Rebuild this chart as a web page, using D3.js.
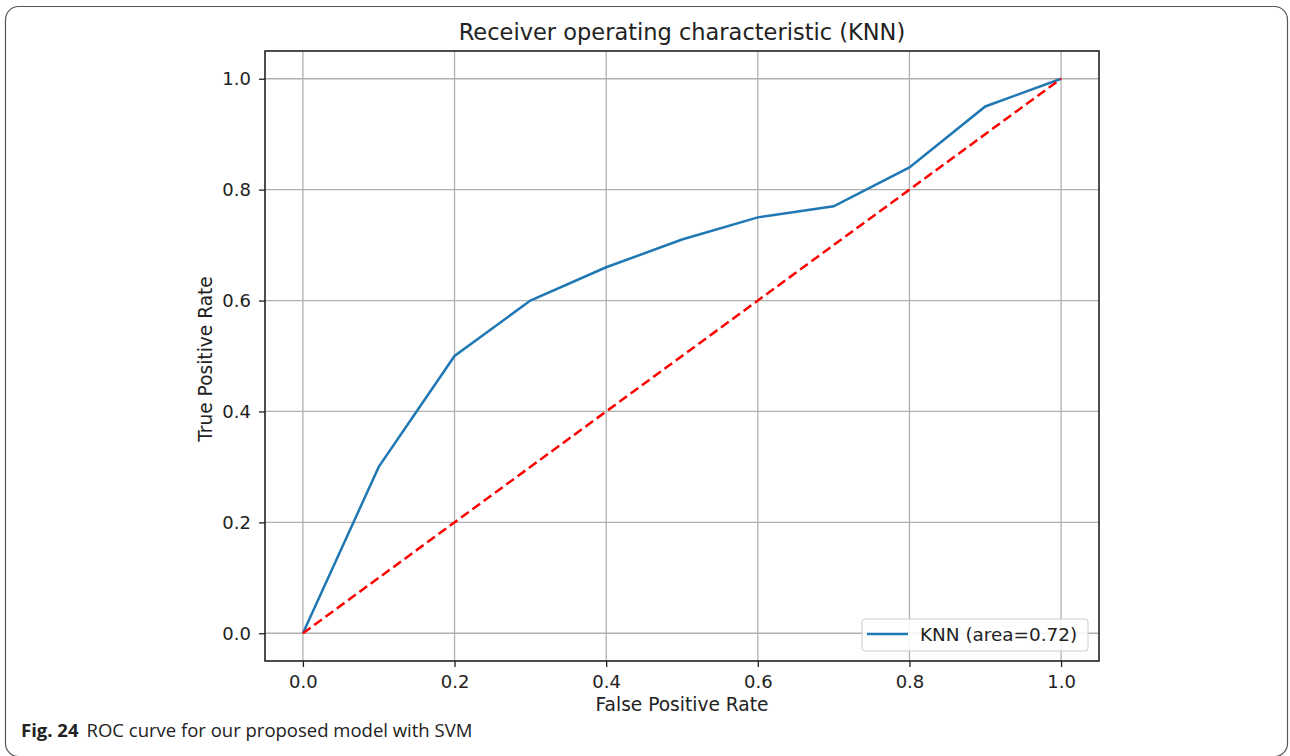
<!DOCTYPE html>
<html><head><meta charset="utf-8">
<script src="https://cdn.jsdelivr.net/npm/d3@7"></script>
<style>body{margin:0;background:#fff}</style>
</head><body>
<svg id="c" width="1290" height="756"></svg>
<script>
const fpr = [0.0, 0.1, 0.2, 0.3, 0.4, 0.5, 0.6, 0.7, 0.8, 0.9, 1.0];
const tpr = [0.0, 0.30, 0.50, 0.60, 0.66, 0.71, 0.75, 0.77, 0.84, 0.95, 1.0];
const diagX = [0, 1];
const diagY = [0, 1];
const xTicks = [0.0, 0.2, 0.4, 0.6, 0.8, 1.0];
const yTicks = [0.0, 0.2, 0.4, 0.6, 0.8, 1.0];
const titleText = "Receiver operating characteristic (KNN)";
const xLabel = "False Positive Rate";
const yLabel = "True Positive Rate";
const legendLabel = "KNN (area=0.72)";

const svg = d3.select("#c");
const font = "'DejaVu Sans', sans-serif";
svg.append("rect").attr("x",5.5).attr("y",6.5).attr("width",1282).attr("height",750)
  .attr("rx",13).attr("fill","none").attr("stroke","#555").attr("stroke-width",1.2);

const L=265, R=1099, T=51, B=661;
const x = d3.scaleLinear().domain([-0.05,1.05]).range([L,R]);
const y = d3.scaleLinear().domain([-0.05,1.05]).range([B,T]);

const g = svg.append("g");
g.selectAll(".gx").data(xTicks).enter().append("line")
  .attr("x1",d=>x(d)).attr("x2",d=>x(d)).attr("y1",T).attr("y2",B)
  .attr("stroke","#b0b0b0").attr("stroke-width",1.3);
g.selectAll(".gy").data(yTicks).enter().append("line")
  .attr("y1",d=>y(d)).attr("y2",d=>y(d)).attr("x1",L).attr("x2",R)
  .attr("stroke","#b0b0b0").attr("stroke-width",1.3);

const pts = fpr.map((v,i)=>[v,tpr[i]]);
const line = d3.line().x(d=>x(d[0])).y(d=>y(d[1]));
g.append("path").datum(pts).attr("d",line).attr("fill","none")
  .attr("stroke","#1f77b4").attr("stroke-width",2.5);
g.append("path").datum(diagX.map((v,i)=>[v,diagY[i]])).attr("d",line).attr("fill","none")
  .attr("stroke","#ff0000").attr("stroke-width",2.5).attr("stroke-dasharray","9.5,4.5");

const xa = svg.append("g").attr("transform",`translate(0,${B})`)
  .call(d3.axisBottom(x).tickValues(xTicks).tickFormat(d3.format(".1f")).tickSize(6).tickPadding(8));
const ya = svg.append("g").attr("transform",`translate(${L},0)`)
  .call(d3.axisLeft(y).tickValues(yTicks).tickFormat(d3.format(".1f")).tickSize(6).tickPadding(8));
[xa,ya].forEach(a=>{
  a.attr("font-family",null).attr("font-size",null);
  a.select(".domain").remove();
  a.selectAll("text").style("font-family",font).style("font-size","18px").attr("fill","#222");
  a.selectAll("line").attr("stroke","#222").attr("stroke-width",1.3);
});
svg.append("rect").attr("x",L).attr("y",T).attr("width",R-L).attr("height",B-T)
  .attr("fill","none").attr("stroke","#222").attr("stroke-width",1.6);

svg.append("text").attr("x",(L+R)/2).attr("y",40).attr("text-anchor","middle")
  .style("font-family",font).style("font-size","22.5px").attr("fill","#222").text(titleText);
svg.append("text").attr("x",(L+R)/2).attr("y",711).attr("text-anchor","middle")
  .style("font-family",font).style("font-size","18.6px").attr("fill","#222").text(xLabel);
svg.append("text").attr("transform",`translate(212,${(T+B)/2+3}) rotate(-90)`).attr("text-anchor","middle")
  .style("font-family",font).style("font-size","18.6px").attr("fill","#222").text(yLabel);

const lg = svg.append("g");
lg.append("rect").attr("x",862).attr("y",619).attr("width",226).attr("height",32).attr("rx",3)
  .attr("fill","#fff").attr("fill-opacity",0.85).attr("stroke","#ccc").attr("stroke-width",1);
lg.append("line").attr("x1",867).attr("x2",908).attr("y1",634).attr("y2",634)
  .attr("stroke","#1f77b4").attr("stroke-width",2.5);
lg.append("text").attr("x",920).attr("y",641).style("font-family",font).style("font-size","18.4px")
  .attr("fill","#222").text(legendLabel);

const cap = svg.append("text").attr("x",21).attr("y",737)
  .style("font-family","'Open Sans', 'Noto Sans', sans-serif").style("font-size","18.5px").attr("fill","#222");
cap.append("tspan").attr("font-weight","bold").text("Fig. 24");
cap.append("tspan").attr("dx",8).text("ROC curve for our proposed model with SVM");
</script>
</body></html>
